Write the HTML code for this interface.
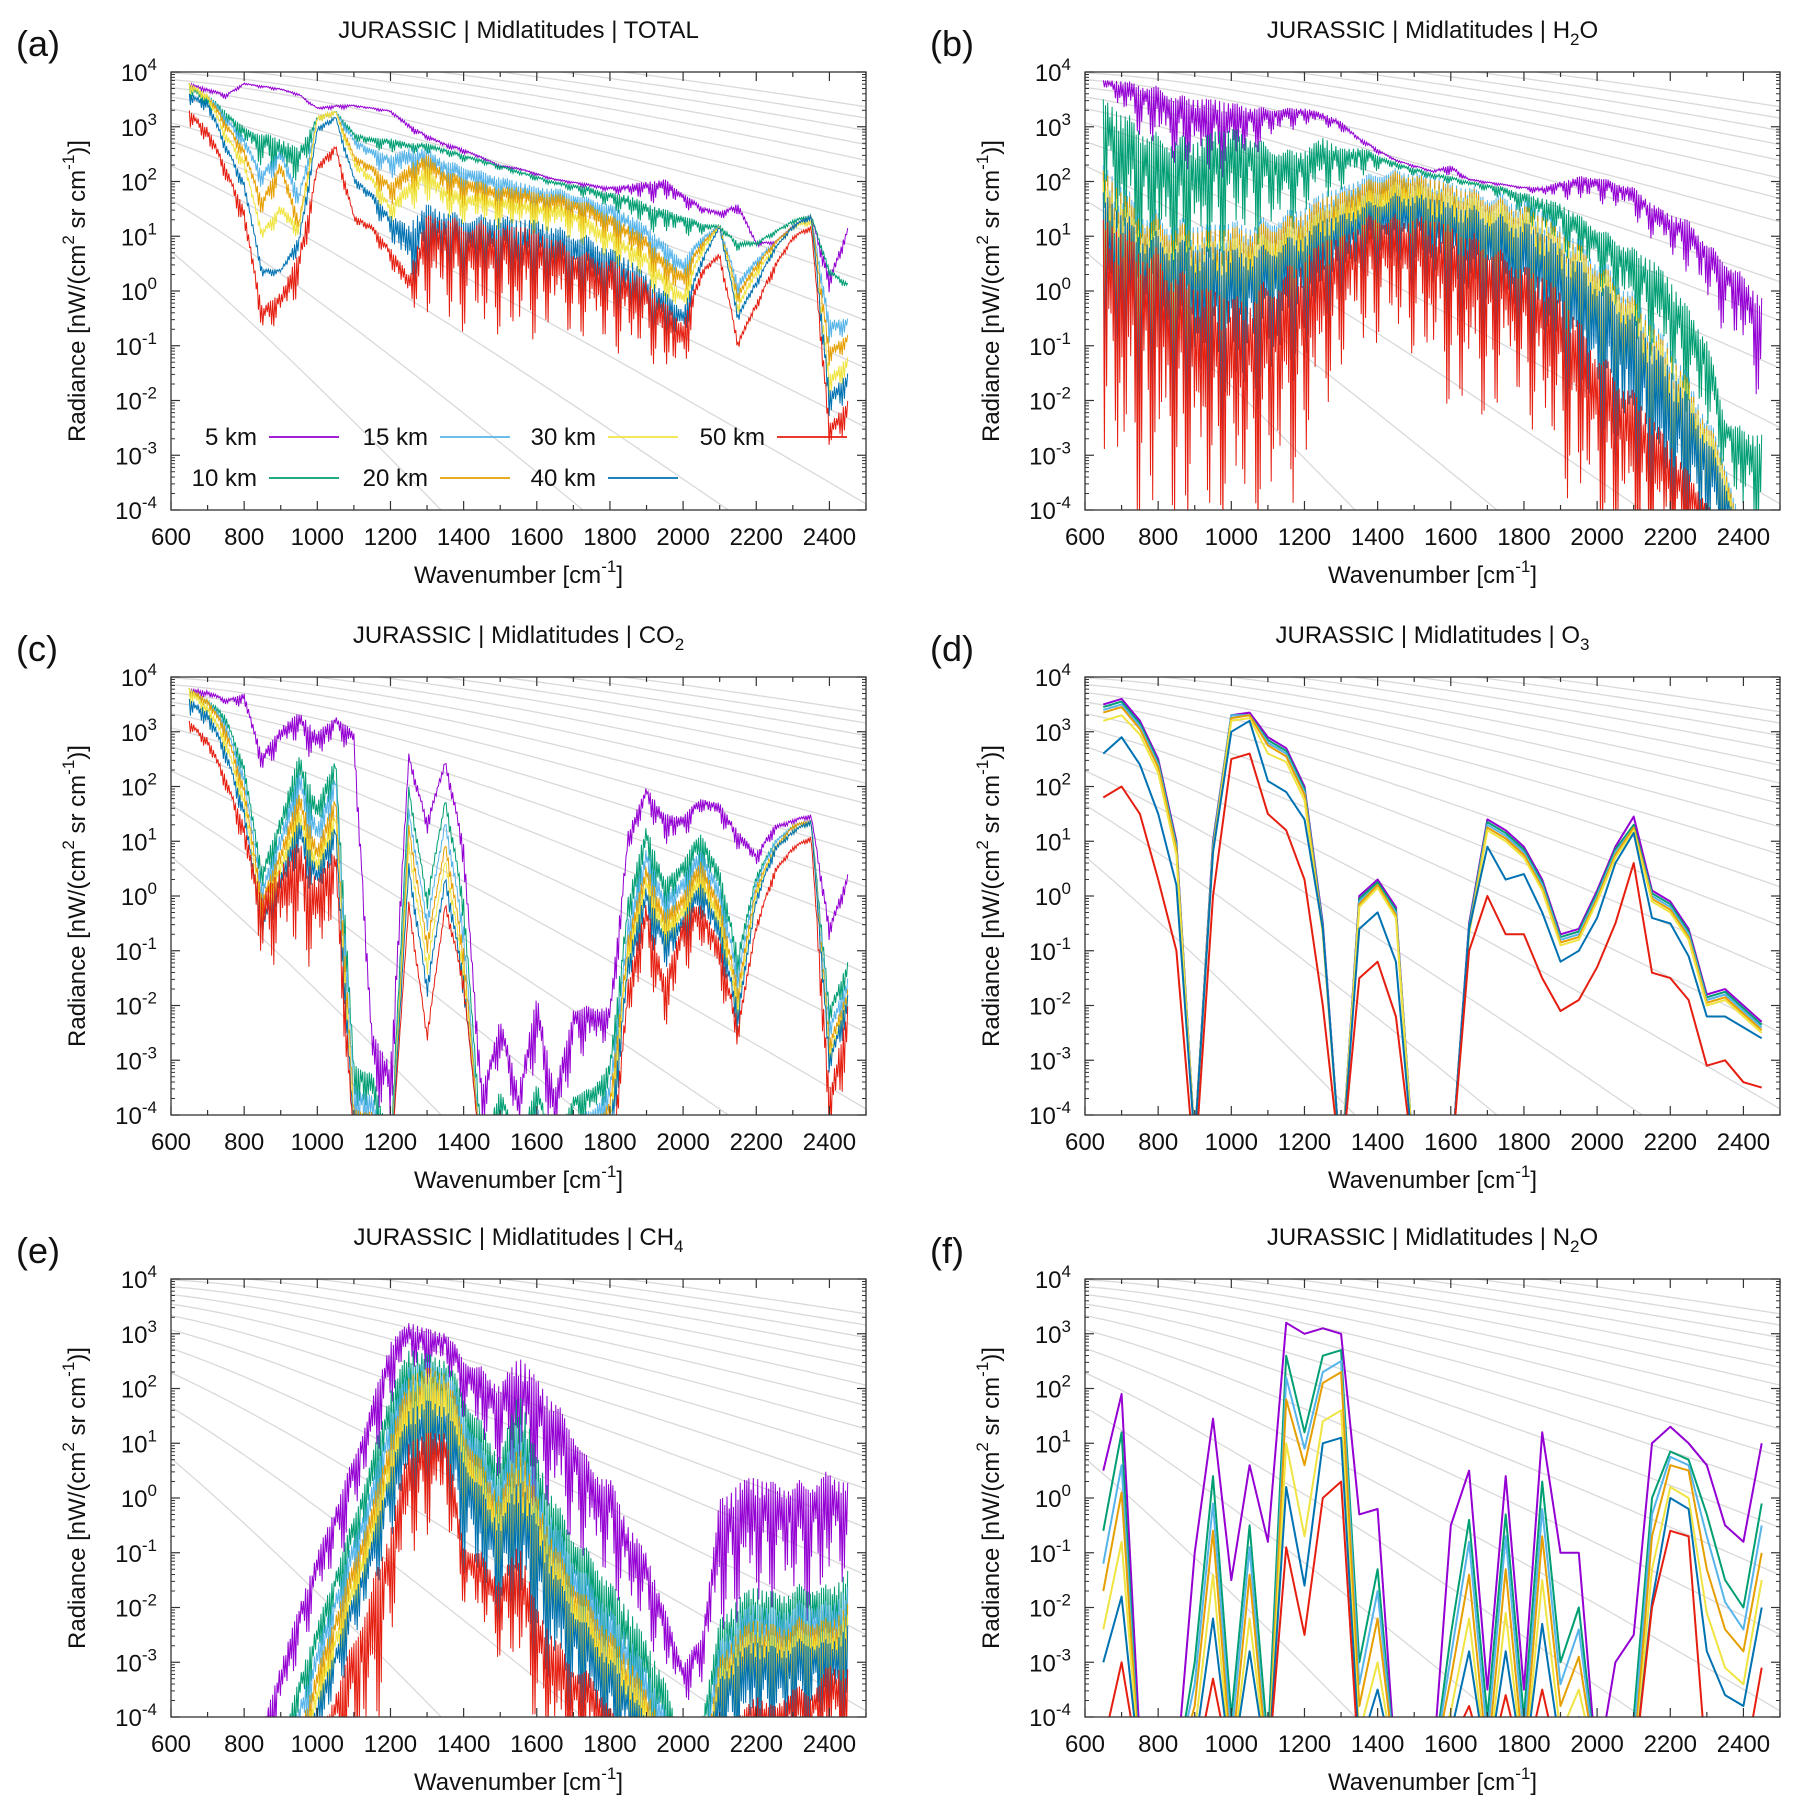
<!DOCTYPE html>
<html><head><meta charset="utf-8"><style>
html,body{margin:0;padding:0;background:#fff;}
svg{display:block;font-family:"Liberation Sans",sans-serif;}
</style></head><body>
<svg id="fig" xmlns="http://www.w3.org/2000/svg" width="1793" height="1811" viewBox="0 0 1793 1811"></svg>
<script>
const wavenumbers=[650,700,750,800,850,900,950,1000,1050,1100,1150,1200,1250,1300,1350,1400,1450,1500,1550,1600,1650,1700,1750,1800,1850,1900,1950,2000,2050,2100,2150,2200,2250,2300,2350,2400,2450];
const altitudes=["5 km","10 km","15 km","20 km","30 km","40 km","50 km"];
const planckTemps=[80,100,120,140,160,180,200,220,240,260,280,300,320,340,360,380,400];
const yTickExps=[-4,-3,-2,-1,0,1,2,3,4];
const xTickLabels=[600,800,1000,1200,1400,1600,1800,2000,2200,2400];
// values are log10(radiance)
const A_5=[3.8,3.7,3.6,3.8,3.75,3.7,3.6,3.35,3.4,3.4,3.35,3.3,3.05,2.85,2.7,2.6,2.45,2.3,2.25,2.15,2.05,2.0,1.95,1.9,1.95,2.0,2.05,1.8,1.55,1.45,1.6,0.9,0.9,1.2,1.4,0.3,1.15];
const A_5_lo=[3.7,3.6,3.5,3.75,3.7,3.65,3.55,3.3,3.3,3.35,3.3,3.25,2.9,2.75,2.6,2.5,2.4,2.25,2.2,2.1,2.0,1.95,1.85,1.8,1.7,1.6,1.6,1.5,1.4,1.3,1.4,0.8,0.85,1.15,1.3,-0.2,1.05];
const A_10=[3.8,3.6,3.3,3.0,2.9,2.8,2.6,3.2,3.3,2.9,2.8,2.8,2.7,2.7,2.6,2.5,2.4,2.3,2.2,2.1,2.0,1.95,1.9,1.8,1.75,1.6,1.5,1.4,1.25,1.2,0.9,0.9,1.1,1.3,1.4,0.4,0.15];
const A_10_lo=[3.5,3.2,3.0,2.6,2.2,2.0,1.9,3.0,3.2,2.7,2.6,2.5,2.5,2.5,2.45,2.35,2.3,2.2,2.1,2.0,1.9,1.8,1.6,1.5,1.3,1.1,1.0,1.0,1.0,1.1,0.7,0.8,1.0,1.2,1.3,0.2,0.05];
const A_15=[3.8,3.6,3.2,2.8,2.2,2.6,1.8,3.2,3.3,2.8,2.6,2.5,2.6,2.6,2.4,2.3,2.2,2.1,2.0,1.9,1.9,1.8,1.7,1.6,1.4,1.2,0.9,0.6,1.0,1.2,0.2,0.6,0.9,1.2,1.4,-0.5,-0.5];
const A_15_lo=[3.6,3.4,3.0,2.5,1.8,2.2,1.4,3.0,3.2,2.6,2.3,2.0,2.0,2.0,1.8,1.7,1.6,1.5,1.4,1.3,1.3,1.2,1.1,1.0,0.8,0.6,0.3,0.0,0.8,1.1,-0.2,0.4,0.8,1.1,1.3,-1.2,-0.7];
const A_20=[3.8,3.6,3.1,2.6,1.7,2.4,1.3,3.2,3.3,2.5,2.3,2.0,2.3,2.5,2.2,2.1,2.0,1.9,1.9,1.8,1.8,1.7,1.6,1.4,1.2,1.0,0.6,0.4,0.9,1.2,0.0,0.5,0.9,1.2,1.4,-1.0,-0.8];
const A_20_lo=[3.6,3.4,2.9,2.3,1.3,1.9,1.0,3.0,3.2,2.3,2.0,1.5,1.7,1.9,1.6,1.5,1.4,1.3,1.3,1.2,1.2,1.1,1.0,0.8,0.6,0.4,0.0,-0.2,0.7,1.1,-0.3,0.3,0.8,1.1,1.3,-1.6,-1.0];
const A_30=[3.8,3.6,2.9,2.4,1.1,1.6,1.2,3.2,3.3,2.4,2.1,1.6,2.0,2.3,1.9,1.8,1.8,1.7,1.7,1.6,1.6,1.5,1.3,1.1,0.9,0.7,0.3,0.0,0.8,1.2,-0.2,0.4,0.8,1.2,1.3,-1.5,-1.2];
const A_30_lo=[3.6,3.4,2.7,2.1,0.9,1.2,0.9,3.0,3.2,2.2,1.8,1.2,1.4,1.6,1.3,1.2,1.2,1.1,1.1,1.0,1.0,0.9,0.7,0.5,0.3,0.1,-0.3,-0.5,0.6,1.1,-0.5,0.2,0.7,1.1,1.2,-2.2,-1.5];
const A_40=[3.6,3.5,2.7,2.0,0.4,0.4,1.0,3.0,3.2,2.1,1.8,1.4,1.2,1.6,1.5,1.4,1.4,1.4,1.3,1.3,1.2,1.1,1.0,0.8,0.6,0.3,0.0,-0.3,0.6,1.2,-0.4,0.2,0.8,1.2,1.4,-1.8,-1.5];
const A_40_lo=[3.4,3.2,2.5,1.7,0.2,0.3,0.6,2.8,3.1,1.9,1.5,0.9,0.0,0.1,0.0,-0.1,-0.1,-0.1,-0.2,-0.2,-0.3,-0.4,-0.5,-0.6,-0.8,-0.9,-1.1,-1.0,0.4,1.1,-0.6,0.0,0.7,1.1,1.3,-2.6,-1.9];
const A_50=[3.3,3.0,2.3,1.5,-0.3,0.0,0.7,2.3,2.7,1.4,1.2,0.8,0.3,1.4,1.4,1.3,1.3,1.2,1.2,1.1,1.0,0.8,0.7,0.6,0.4,0.2,-0.2,-0.5,0.4,0.7,-0.9,-0.2,0.5,1.0,1.2,-2.4,-2.0];
const A_50_lo=[3.0,2.6,2.0,1.0,-0.8,-0.6,-0.2,2.1,2.4,1.2,1.0,0.4,-0.3,-0.5,-0.7,-0.8,-1.0,-0.8,-1.2,-0.9,-0.8,-0.9,-1.0,-1.1,-1.3,-1.2,-1.6,-1.7,0.2,0.5,-1.1,-0.4,0.3,0.9,1.1,-3.1,-2.5];

const B_5=[3.85,3.85,3.8,3.75,3.6,3.55,3.5,3.45,3.4,3.35,3.35,3.35,3.25,3.1,2.8,2.6,2.4,2.3,2.2,2.3,2.05,2.0,1.95,1.9,1.9,2.0,2.1,2.1,2.0,1.9,1.6,1.4,1.3,0.9,0.6,0.3,-0.1];
const B_5_lo=[3.75,3.2,2.8,2.5,2.2,2.1,2.0,2.1,2.4,2.7,2.9,3.0,3.0,2.9,2.7,2.5,2.35,2.25,2.15,2.1,2.0,1.95,1.9,1.85,1.7,1.7,1.6,1.6,1.5,1.3,0.9,0.6,0.3,-0.3,-0.8,-1.3,-2.2];
const B_10=[3.5,3.3,3.1,2.9,2.9,2.8,2.9,3.0,2.9,2.7,2.6,2.6,2.8,2.6,2.65,2.5,2.35,2.25,2.15,2.1,2.0,1.95,1.9,1.8,1.7,1.6,1.4,1.2,1.0,0.8,0.6,0.2,-0.3,-0.8,-2.3,-2.5,-2.6];
const B_10_lo=[1.5,0.3,0.0,-0.1,-0.2,0.0,0.3,0.5,0.8,0.9,1.0,1.3,1.6,1.8,2.0,2.2,2.2,2.1,2.0,1.95,1.9,1.8,1.6,1.3,1.0,0.7,0.4,0.0,-0.4,-0.9,-1.3,-1.8,-2.3,-2.8,-3.3,-4.5,-4.5];
const B_15=[2.3,2.0,1.6,1.5,1.4,1.3,1.2,1.3,1.3,1.4,1.5,1.6,1.8,1.9,2.1,2.2,2.25,2.2,2.1,2.0,1.95,1.85,1.8,1.7,1.5,1.2,1.0,0.7,0.4,0.0,-0.5,-1.0,-1.5,-2.2,-3.0,-4.5,-5];
const B_15_lo=[-1.0,-1.5,-1.8,-2.0,-2.0,-2.0,-1.8,-1.5,-1.3,-1.0,-0.8,-0.5,0.0,0.5,0.8,1.0,1.0,0.9,0.5,0.2,0.0,-0.2,-0.4,-0.7,-1.0,-1.4,-1.8,-2.2,-2.6,-3.0,-3.5,-4.0,-4.5,-5,-5,-5,-5];
const B_20=[2.2,1.9,1.5,1.4,1.3,1.2,1.1,1.2,1.2,1.3,1.4,1.5,1.7,1.8,2.0,2.1,2.2,2.15,2.05,1.95,1.9,1.8,1.7,1.6,1.4,1.1,0.9,0.6,0.3,-0.1,-0.6,-1.1,-1.6,-2.3,-3.1,-4.6,-5];
const B_20_lo=[-1.2,-1.7,-2.0,-2.2,-2.2,-2.2,-2.0,-1.7,-1.5,-1.2,-1.0,-0.7,-0.2,0.3,0.6,0.8,0.8,0.7,0.3,0.0,-0.2,-0.4,-0.6,-0.9,-1.2,-1.6,-2.0,-2.4,-2.8,-3.2,-3.7,-4.2,-4.7,-5,-5,-5,-5];
const B_30=[2.0,1.7,1.3,1.2,1.1,1.0,0.9,1.0,1.0,1.1,1.2,1.3,1.5,1.6,1.8,1.9,2.0,2.0,1.9,1.8,1.8,1.7,1.6,1.5,1.3,1.0,0.8,0.5,0.2,-0.2,-0.7,-1.2,-1.7,-2.4,-3.2,-4.7,-5];
const B_30_lo=[-1.5,-2.0,-2.3,-2.5,-2.5,-2.5,-2.3,-2.0,-1.8,-1.5,-1.3,-1.0,-0.5,0.0,0.3,0.5,0.5,0.4,0.0,-0.3,-0.5,-0.7,-0.9,-1.2,-1.5,-1.9,-2.3,-2.7,-3.1,-3.5,-4.0,-4.5,-5,-5,-5,-5,-5];
const B_40=[1.8,1.5,1.2,1.1,1.0,0.9,0.8,0.8,0.8,0.9,1.0,1.1,1.3,1.4,1.6,1.7,1.8,1.8,1.7,1.6,1.6,1.5,1.4,1.3,1.1,0.8,0.6,0.3,0.0,-0.4,-0.9,-1.4,-1.9,-2.6,-3.4,-4.8,-5];
const B_40_lo=[-2.0,-2.5,-2.8,-3.0,-3.0,-3.0,-2.8,-2.5,-2.3,-2.0,-1.8,-1.5,-1.0,-0.5,-0.2,0.0,0.0,-0.1,-0.5,-0.8,-1.0,-1.2,-1.4,-1.7,-2.0,-2.4,-2.8,-3.2,-3.6,-4.0,-4.5,-5,-5,-5,-5,-5,-5];
const B_50=[1.3,1.2,1.0,0.8,0.5,0.2,0.0,-0.1,0.0,0.3,0.5,0.7,0.9,1.0,1.3,1.5,1.4,1.4,1.3,1.2,1.1,1.0,0.7,0.5,0.3,0.0,-0.5,-1.0,-1.4,-1.8,-2.3,-2.8,-3.3,-3.8,-4.5,-5,-5];
const B_50_lo=[-3.0,-4.2,-4.5,-4.5,-4.5,-4.5,-4.5,-4.5,-4.5,-4.5,-4.2,-3.5,-2.5,-1.5,-1.2,-1.0,-1.1,-1.2,-1.8,-2.3,-2.5,-2.6,-2.0,-2.3,-3.0,-3.6,-4.2,-4.5,-5,-5,-5,-5,-5,-5,-5,-5,-5];

const C_5=[3.8,3.75,3.6,3.7,2.6,3.1,3.35,3.0,3.3,3.0,-2.5,-3.0,2.6,1.4,2.5,1.0,-3.5,-2.2,-3.5,-1.8,-3.5,-2.0,-2.0,-2.0,1.2,2.0,1.5,1.5,1.8,1.7,1.2,0.8,1.3,1.4,1.5,-0.5,0.4];
const C_5_lo=[3.6,3.6,3.5,3.4,2.2,2.6,2.8,2.3,2.9,2.5,-3.5,-4.5,2.4,1.1,2.3,0.5,-4.5,-3.0,-4.5,-3.0,-5,-3.0,-3.0,-2.7,0.6,1.6,0.8,1.0,1.5,1.3,0.8,0.5,1.1,1.3,1.4,-1.0,0.2];
const C_10=[3.8,3.6,3.3,2.4,0.5,1.5,2.6,1.7,2.6,-3.0,-3.2,-4.5,2.0,0.0,1.8,0.0,-4.5,-3.5,-4.5,-3.4,-4.5,-3.6,-3.5,-3.0,0.0,1.3,0.3,0.7,1.2,0.5,-1.0,0.4,1.0,1.3,1.4,-2.0,-1.2];
const C_10_lo=[3.6,3.4,3.1,2.0,0.0,0.8,1.6,1.0,1.8,-4.0,-4.2,-5,1.8,-0.3,1.6,-0.5,-5,-4.2,-5,-4.2,-5,-4.3,-4.2,-3.8,-0.8,0.4,-0.5,0.0,0.4,-0.2,-1.6,0.2,0.9,1.2,1.3,-2.6,-1.6];
const C_15=[3.8,3.6,3.2,2.2,0.2,1.2,2.3,1.3,2.3,-3.4,-3.6,-5,1.6,-0.4,1.4,-0.5,-5,-3.9,-5,-3.8,-5,-4.0,-3.9,-3.4,-0.4,0.9,0.0,0.4,0.9,0.2,-1.3,0.3,1.0,1.3,1.4,-2.3,-1.5];
const C_15_lo=[3.6,3.4,2.9,1.8,-0.3,0.5,1.4,0.6,1.5,-4.5,-4.6,-5,1.4,-0.7,1.2,-1.0,-5,-4.6,-5,-4.6,-5,-4.7,-4.6,-4.2,-1.2,0.0,-0.8,-0.3,0.1,-0.5,-1.9,0.1,0.9,1.2,1.3,-2.9,-1.9];
const C_20=[3.8,3.6,3.1,2.0,0.0,0.9,1.9,0.9,1.9,-3.8,-3.9,-5,1.3,-0.8,1.0,-0.9,-5,-4.2,-5,-4.2,-5,-4.3,-4.2,-3.7,-0.7,0.6,-0.3,0.1,0.7,-0.1,-1.6,0.2,0.9,1.3,1.4,-2.6,-1.7];
const C_20_lo=[3.6,3.4,2.8,1.6,-0.5,0.3,1.1,0.3,1.2,-4.8,-4.9,-5,1.1,-1.1,0.8,-1.4,-5,-5,-5,-5,-5,-5,-5,-4.5,-1.4,-0.2,-1.1,-0.6,-0.1,-0.8,-2.2,0.0,0.8,1.2,1.3,-3.2,-2.1];
const C_30=[3.8,3.5,2.9,1.8,-0.2,0.7,1.6,0.7,1.6,-4.1,-4.2,-5,1.0,-1.2,0.7,-1.2,-5,-4.5,-5,-4.5,-5,-4.6,-4.5,-4.0,-0.9,0.4,-0.5,-0.1,0.5,-0.3,-1.8,0.1,0.9,1.2,1.4,-2.8,-1.8];
const C_30_lo=[3.5,3.2,2.6,1.4,-0.7,0.1,0.8,0.0,0.9,-5,-5,-5,0.8,-1.5,0.5,-1.7,-5,-5,-5,-5,-5,-5,-5,-4.8,-1.6,-0.4,-1.3,-0.8,-0.3,-1.0,-2.4,-0.1,0.8,1.1,1.3,-3.4,-2.2];
const C_40=[3.6,3.4,2.7,1.6,-0.4,0.5,1.4,0.5,1.4,-4.3,-4.3,-5,0.6,-1.6,0.4,-1.4,-5,-4.7,-5,-4.7,-5,-4.8,-4.7,-4.2,-1.1,0.2,-0.7,-0.3,0.3,-0.5,-2.0,0.0,0.9,1.2,1.4,-2.9,-1.8];
const C_40_lo=[3.3,3.0,2.4,1.2,-0.9,-0.2,0.5,-0.2,0.6,-5,-5,-5,0.3,-1.9,0.1,-1.9,-5,-5,-5,-5,-5,-5,-5,-5,-1.8,-0.7,-1.5,-1.0,-0.5,-1.2,-2.6,-0.2,0.7,1.1,1.3,-3.5,-2.3];
const C_50=[3.2,2.9,2.2,1.3,0.0,0.6,1.0,0.3,1.0,-4.5,-5,-5,-0.1,-2.5,-0.1,-1.5,-5,-5,-5,-5,-5,-5,-5,-5,-1.5,-0.1,-1.5,-0.3,-0.1,-0.8,-2.3,-0.5,0.5,0.9,1.1,-3.5,-2.0];
const C_50_lo=[3.0,2.6,1.9,0.7,-1.3,-1.4,-1.0,-1.6,-0.5,-5,-5,-5,-0.3,-2.7,-0.3,-1.8,-5,-5,-5,-5,-5,-5,-5,-5,-2.6,-1.2,-2.7,-1.5,-1.0,-1.8,-2.8,-0.7,0.3,0.8,1.0,-5,-3.0];

const D_5=[3.5,3.6,3.2,2.5,1.0,-4.5,1.0,3.3,3.35,2.9,2.7,2.0,-0.5,-5,0.0,0.3,-0.2,-5,-5,-5,-0.5,1.4,1.2,0.9,0.3,-0.7,-0.6,0.1,0.9,1.45,0.1,-0.1,-0.6,-1.8,-1.7,-2.0,-2.3];
const D_10=[3.45,3.55,3.15,2.45,0.95,-4.5,0.95,3.3,3.3,2.85,2.65,1.95,-0.55,-5,-0.05,0.25,-0.25,-5,-5,-5,-0.55,1.35,1.15,0.85,0.25,-0.75,-0.65,0.05,0.85,1.3,0.05,-0.15,-0.65,-1.85,-1.75,-2.05,-2.35];
const D_15=[3.4,3.5,3.1,2.4,0.9,-4.5,0.9,3.3,3.3,2.8,2.6,1.9,-0.6,-5,-0.1,0.2,-0.3,-5,-5,-5,-0.6,1.3,1.1,0.8,0.2,-0.8,-0.7,0.0,0.8,1.25,0.0,-0.2,-0.7,-1.9,-1.8,-2.1,-2.4];
const D_20=[3.35,3.45,3.05,2.35,0.85,-4.5,0.85,3.25,3.3,2.75,2.55,1.85,-0.65,-5,-0.15,0.2,-0.35,-5,-5,-5,-0.65,1.25,1.05,0.75,0.15,-0.85,-0.75,-0.05,0.75,1.25,-0.05,-0.25,-0.75,-1.95,-1.85,-2.15,-2.45];
const D_30=[3.2,3.3,2.95,2.25,0.75,-4.5,0.8,3.2,3.25,2.6,2.45,1.75,-0.7,-5,-0.2,0.15,-0.4,-5,-5,-5,-0.7,1.2,1.0,0.7,0.1,-0.9,-0.8,-0.1,0.7,1.2,-0.1,-0.3,-0.8,-2.0,-1.9,-2.2,-2.5];
const D_40=[2.6,2.9,2.4,1.5,0.2,-4.5,0.8,3.0,3.2,2.1,1.9,1.4,-0.6,-5,-0.6,-0.3,-1.2,-5,-5,-5,-0.6,0.9,0.3,0.4,-0.3,-1.2,-1.0,-0.4,0.6,1.15,-0.4,-0.5,-1.1,-2.2,-2.2,-2.4,-2.6];
const D_50=[1.8,2.0,1.5,0.3,-1.0,-5,0.0,2.5,2.6,1.5,1.2,0.3,-2.0,-5,-1.5,-1.2,-2.2,-5,-5,-5,-1.0,0.0,-0.7,-0.7,-1.5,-2.1,-1.9,-1.3,-0.5,0.6,-1.4,-1.5,-1.9,-3.1,-3.0,-3.4,-3.5];

const E_5=[-5,-5,-5,-5,-4.2,-3.0,-2.0,-1.0,-0.1,0.8,1.8,2.9,3.2,3.1,3.05,2.6,2.4,2.1,2.6,2.2,1.8,1.3,0.6,0.4,-0.5,-1.0,-2.0,-3.0,-2.5,0.0,0.3,0.4,0.3,0.3,0.4,0.5,0.3];
const E_5_lo=[-5,-5,-5,-5,-5,-4.2,-3.0,-2.0,-1.4,-0.5,0.5,1.5,2.5,2.0,2.3,1.4,0.8,0.3,0.0,-0.3,-0.6,-1.0,-1.4,-1.7,-2.2,-2.6,-3.2,-3.8,-3.5,-2.6,-2.4,-2.2,-2.0,-2.1,-2.3,-2.0,-1.4];
const E_10=[-5,-5,-5,-5,-5,-4.5,-3.3,-2.3,-1.3,-0.3,0.8,2.0,2.7,2.65,2.6,2.0,1.4,0.8,2.0,0.8,0.0,-0.6,-1.0,-1.5,-2.0,-2.6,-3.3,-4.5,-4.0,-2.2,-1.8,-1.6,-1.7,-1.6,-1.5,-1.6,-1.3];
const E_10_lo=[-5,-5,-5,-5,-5,-5,-4.2,-3.2,-2.3,-1.4,-0.5,0.5,1.0,0.8,0.9,-0.2,-0.8,-1.3,-1.6,-2.0,-2.4,-2.8,-3.2,-3.6,-4.0,-4.5,-5,-5,-5,-4.2,-4.0,-3.8,-3.8,-3.8,-3.7,-3.7,-3.5];
const E_15=[-5,-5,-5,-5,-5,-5,-3.8,-2.7,-1.7,-0.7,0.3,1.6,2.4,2.5,2.5,1.7,1.0,0.4,1.5,0.4,-0.4,-1.0,-1.5,-2.0,-2.5,-3.1,-3.8,-5,-4.5,-2.6,-2.1,-1.9,-2.0,-1.9,-1.8,-1.9,-1.6];
const E_15_lo=[-5,-5,-5,-5,-5,-5,-4.6,-3.6,-2.7,-1.8,-0.9,0.1,0.6,0.4,0.5,-0.6,-1.2,-1.7,-2.0,-2.4,-2.8,-3.2,-3.6,-4.0,-4.4,-4.9,-5,-5,-5,-4.5,-4.3,-4.1,-4.1,-4.1,-4.0,-4.0,-3.8];
const E_20=[-5,-5,-5,-5,-5,-5,-4.3,-3.1,-2.1,-1.1,-0.1,1.2,2.2,2.4,2.4,1.4,0.7,0.1,1.0,0.1,-0.8,-1.4,-1.9,-2.4,-2.9,-3.5,-4.2,-5,-5,-2.9,-2.4,-2.2,-2.3,-2.2,-2.1,-2.2,-1.9];
const E_20_lo=[-5,-5,-5,-5,-5,-5,-5,-4.0,-3.1,-2.2,-1.3,-0.3,0.2,0.0,0.1,-1.0,-1.6,-2.1,-2.4,-2.8,-3.2,-3.6,-4.0,-4.4,-4.8,-5,-5,-5,-5,-4.8,-4.6,-4.4,-4.4,-4.4,-4.3,-4.3,-4.1];
const E_30=[-5,-5,-5,-5,-5,-5,-4.6,-3.4,-2.4,-1.4,-0.4,0.9,2.0,2.3,2.3,1.2,0.5,-0.1,0.7,-0.1,-1.0,-1.6,-2.1,-2.6,-3.1,-3.7,-4.4,-5,-5,-3.1,-2.6,-2.4,-2.5,-2.4,-2.3,-2.4,-2.1];
const E_30_lo=[-5,-5,-5,-5,-5,-5,-5,-4.3,-3.4,-2.5,-1.6,-0.6,-0.1,-0.3,-0.2,-1.3,-1.9,-2.4,-2.7,-3.1,-3.5,-3.9,-4.3,-4.7,-5,-5,-5,-5,-5,-5,-4.8,-4.6,-4.6,-4.6,-4.5,-4.5,-4.3];
const E_40=[-5,-5,-5,-5,-5,-5,-5,-3.7,-2.7,-1.7,-0.7,0.6,1.6,1.8,1.8,0.9,0.2,-0.4,0.4,-0.4,-1.3,-1.9,-2.4,-2.9,-3.4,-4.0,-4.7,-5,-5,-3.3,-2.8,-2.6,-2.7,-2.6,-2.5,-2.6,-2.3];
const E_40_lo=[-5,-5,-5,-5,-5,-5,-5,-4.6,-3.7,-2.8,-1.9,-0.9,-0.4,-0.6,-0.5,-1.6,-2.2,-2.7,-3.0,-3.4,-3.8,-4.2,-4.6,-5,-5,-5,-5,-5,-5,-5,-5,-4.8,-4.8,-4.8,-4.7,-4.7,-4.5];
const E_50=[-5,-5,-5,-5,-5,-5,-5,-4.5,-3.5,-2.5,-1.5,-0.5,1.0,1.2,1.3,-0.8,-1.0,-1.5,-0.8,-2.0,-2.5,-3.0,-3.2,-3.8,-4.5,-5,-5,-5,-5,-5,-4.0,-3.6,-3.8,-3.4,-3.5,-3.0,-3.1];
const E_50_lo=[-5,-5,-5,-5,-5,-5,-5,-5,-5,-5,-5,-2.8,-1.2,-0.8,-0.5,-2.0,-2.5,-3.0,-3.5,-4.2,-5,-5,-5,-5,-5,-5,-5,-5,-5,-5,-5,-5,-5,-5,-5,-5,-5];

const F_5=[0.5,1.9,-4.5,-5,-5,-1.0,1.45,-1.5,0.6,-0.8,3.2,3.0,3.1,3.0,-0.3,-0.2,-5,-5,-5,-0.5,0.5,-3.5,0.4,-3.5,1.2,-1.0,-1.0,-5,-3.0,-2.5,1.0,1.3,1.0,0.6,-0.5,-0.8,1.0];
const F_10=[-0.6,1.2,-5,-5,-5,-3.0,0.4,-4.0,-0.5,-4.5,2.6,1.2,2.6,2.7,-3.0,-1.3,-5,-5,-5,-2.5,-0.4,-4.0,-0.3,-4.0,0.3,-3.0,-2.0,-5,-5,-4.0,0.0,0.85,0.7,-0.3,-1.5,-2.0,-0.1];
const F_15=[-1.2,0.6,-5,-5,-5,-3.4,-0.1,-4.4,-0.9,-5,2.2,0.9,2.3,2.5,-3.4,-1.7,-5,-5,-5,-2.9,-0.8,-4.4,-0.7,-4.4,-0.2,-3.4,-2.4,-5,-5,-4.4,-0.3,0.75,0.6,-0.7,-1.9,-2.4,-0.5];
const F_20=[-1.7,0.1,-5,-5,-5,-3.8,-0.6,-4.8,-1.4,-5,1.8,0.6,2.1,2.3,-3.8,-2.2,-5,-5,-5,-3.3,-1.4,-4.8,-1.3,-4.8,-0.7,-3.8,-2.9,-5,-5,-4.8,-0.7,0.6,0.5,-1.3,-2.4,-2.8,-1.0];
const F_30=[-2.4,-0.8,-5,-5,-5,-4.3,-1.4,-5,-2.2,-5,1.0,-0.7,1.4,1.6,-4.3,-3.0,-5,-5,-5,-3.9,-2.2,-5,-2.1,-5,-1.5,-4.3,-3.5,-5,-5,-5,-1.3,0.2,0.0,-2.1,-3.1,-3.4,-1.5];
const F_40=[-3.0,-1.8,-5,-5,-5,-4.6,-2.2,-5,-2.8,-5,0.2,-1.6,1.0,1.1,-4.6,-3.5,-5,-5,-5,-4.3,-2.8,-5,-2.8,-5,-2.3,-4.6,-4.0,-5,-5,-5,-1.9,0.0,-0.2,-2.8,-3.6,-3.8,-2.0];
const F_50=[-4.5,-3.0,-5,-5,-5,-5,-3.3,-5,-5,-5,-0.9,-2.5,0.0,0.3,-5,-5,-5,-5,-5,-4.5,-3.8,-5,-3.6,-5,-3.5,-5,-5,-5,-5,-5,-2.0,-0.6,-0.7,-5,-5,-5,-3.1];

const COLORS=["#9400d3","#009e73","#56b4e9","#e69f00","#f0e442","#0072b2","#e51e10"];
const NS="http://www.w3.org/2000/svg";
const svg=document.getElementById('fig');
function mk(tag,attrs,parent){const e=document.createElementNS(NS,tag);for(const k in attrs)e.setAttribute(k,attrs[k]);(parent||svg).appendChild(e);return e;}
function interp(arr,w){
  const i=Math.min(arr.length-2,Math.max(0,Math.floor((w-wavenumbers[0])/50)));
  const t=(w-wavenumbers[i])/(wavenumbers[i+1]-wavenumbers[i]);
  return arr[i]+(arr[i+1]-arr[i])*t;
}

const panels=[
 {id:'a',gas:'TOTAL',sub:null,L:171,T:72,hi:[A_5,A_10,A_15,A_20,A_30,A_40,A_50],lo:[A_5_lo,A_10_lo,A_15_lo,A_20_lo,A_30_lo,A_40_lo,A_50_lo],legend:true},
 {id:'b',gas:'H',sub:['2','O'],L:1085,T:72,hi:[B_5,B_10,B_15,B_20,B_30,B_40,B_50],lo:[B_5_lo,B_10_lo,B_15_lo,B_20_lo,B_30_lo,B_40_lo,B_50_lo]},
 {id:'c',gas:'CO',sub:['2',''],L:171,T:677,hi:[C_5,C_10,C_15,C_20,C_30,C_40,C_50],lo:[C_5_lo,C_10_lo,C_15_lo,C_20_lo,C_30_lo,C_40_lo,C_50_lo]},
 {id:'d',gas:'O',sub:['3',''],L:1085,T:677,hi:[D_5,D_10,D_15,D_20,D_30,D_40,D_50],lo:[null,null,null,null,null,null,null]},
 {id:'e',gas:'CH',sub:['4',''],L:171,T:1279,hi:[E_5,E_10,E_15,E_20,E_30,E_40,E_50],lo:[E_5_lo,E_10_lo,E_15_lo,E_20_lo,E_30_lo,E_40_lo,E_50_lo]},
 {id:'f',gas:'N',sub:['2','O'],L:1085,T:1279,hi:[F_5,F_10,F_15,F_20,F_30,F_40,F_50],lo:[null,null,null,null,null,null,null]}
];
const W=695,H=438;

panels.forEach(p=>{
  const g=mk('g',{});
  
  
  const xs=w=>p.L+(w-600)/1900*W;
  const ys=l=>p.T+(4-l)/8*H;
  const cx=p.L+W/2;
  const cp=mk('clipPath',{id:'clip-'+p.id},g);
  mk('rect',{x:p.L,y:p.T,width:W,height:H},cp);
  const plot=mk('g',{'clip-path':'url(#clip-'+p.id+')'},g);
  
  
  planckTemps.forEach(T=>{
    let d='';
    for(let w=600;w<=2500;w+=10){
      const B=1.191042e-3*Math.pow(w,3)/(Math.exp(1.4388*w/T)-1);
      const l=Math.max(-6,Math.log10(B));
      d+=(d?'L':'M')+xs(w).toFixed(1)+','+ys(l).toFixed(1);
    }
    const c=mk('path',{d:d,fill:'none',stroke:'#d9d9d9','stroke-width':1.3},plot);
    
    
  });
  p.hi.forEach((hi,si)=>{
    const lo=p.lo[si];
    const col=COLORS[si];
    let pts=[];
    if(lo){
      let k=0;
      for(let w=650;w<=2450;w+=3,k++){
        const h=interp(hi,w), l=interp(lo,w);
        let v;
        if(k%2===0) v=h-(h-l)*0.15*Math.abs(Math.sin(k*0.77)*Math.sin(k*0.13));
        else v=h-(h-l)*(0.3+0.7*Math.abs(Math.sin(k*1.37)*Math.cos(k*0.29)));
        pts.push(xs(w).toFixed(1)+','+ys(v).toFixed(1));
      }
      const pl=mk('polyline',{points:pts.join(' '),fill:'none',stroke:col,'stroke-width':1,'stroke-linejoin':'miter'},plot);
      
      
    } else {
      pts=hi.map((v,i)=>xs(wavenumbers[i]).toFixed(1)+','+ys(v).toFixed(1));
      const pl=mk('polyline',{points:pts.join(' '),fill:'none',stroke:col,'stroke-width':2,'stroke-linejoin':'round'},plot);
      
      
    }
  });
  const fr=mk('rect',{x:p.L,y:p.T,width:W,height:H,fill:'none',stroke:'#333','stroke-width':1.3},g);
  
  
  for(let w=600;w<=2500;w+=100){
    const len=(w%200===0)?9:5;const x=xs(w);
    mk('line',{x1:x,y1:p.T+H,x2:x,y2:p.T+H-len,stroke:'#333','stroke-width':1.2},g);
    mk('line',{x1:x,y1:p.T,x2:x,y2:p.T+len,stroke:'#333','stroke-width':1.2},g);
  }
  xTickLabels.forEach(w=>{
    const t=mk('text',{x:xs(w),y:p.T+H+35,'text-anchor':'middle','font-size':24,fill:'#111'},g);
    t.textContent=w;
    
    
  });
  yTickExps.forEach(e=>{
    const y=ys(e);
    mk('line',{x1:p.L,y1:y,x2:p.L+9,y2:y,stroke:'#333','stroke-width':1.2},g);
    mk('line',{x1:p.L+W,y1:y,x2:p.L+W-9,y2:y,stroke:'#333','stroke-width':1.2},g);
    if(e<4){for(let m=2;m<10;m++){const ym=ys(e+Math.log10(m));
      mk('line',{x1:p.L,y1:ym,x2:p.L+4,y2:ym,stroke:'#333','stroke-width':1},g);
      mk('line',{x1:p.L+W,y1:ym,x2:p.L+W-4,y2:ym,stroke:'#333','stroke-width':1},g);}}
    const t=mk('text',{x:p.L-14,y:y+9,'text-anchor':'end','font-size':24,fill:'#111'},g);
    
    
    const a=mk('tspan',{},t);a.textContent='10';
    const b=mk('tspan',{dy:-11,'font-size':17},t);b.textContent=String(e);
  });
  const xt=mk('text',{x:cx,y:p.T+H+73,'text-anchor':'middle','font-size':24,fill:'#111'},g);
  
  
  mk('tspan',{},xt).textContent='Wavenumber [cm';
  mk('tspan',{dy:-11,'font-size':17},xt).textContent='-1';
  mk('tspan',{dy:11},xt).textContent=']';
  const yx=p.L-86,yy=p.T+H/2;
  const yt=mk('text',{x:yx,y:yy,'text-anchor':'middle','font-size':24,fill:'#111',transform:'rotate(-90 '+yx+' '+yy+')'},g);
  
  
  mk('tspan',{},yt).textContent='Radiance [nW/(cm';
  mk('tspan',{dy:-11,'font-size':17},yt).textContent='2';
  mk('tspan',{dy:11},yt).textContent=' sr cm';
  mk('tspan',{dy:-11,'font-size':17},yt).textContent='-1';
  mk('tspan',{dy:11},yt).textContent=')]';
  const tt=mk('text',{x:cx,y:p.T-34,'text-anchor':'middle','font-size':24,fill:'#111'},g);
  
  
  mk('tspan',{},tt).textContent='JURASSIC | Midlatitudes | '+p.gas;
  if(p.sub){mk('tspan',{dy:7,'font-size':17},tt).textContent=p.sub[0];
    if(p.sub[1]) mk('tspan',{dy:-7},tt).textContent=p.sub[1];}
  const pl=mk('text',{x:p.L-155,y:p.T-16,'font-size':36,fill:'#111'},g);
  
  
  pl.textContent='('+p.id+')';
  if(p.legend){
    const lg=mk('g',{},g);
    
    
    const cols=[[0,1],[2,3],[4,5],[6]];
    const labelEnd=[257,428,596,765];
    cols.forEach((c,ci)=>{c.forEach((si,ri)=>{
      const y=p.T+365+ri*41;
      const e=mk('g',{},lg);
      
      
      const t=mk('text',{x:labelEnd[ci],y:y+8,'text-anchor':'end','font-size':24,fill:'#111'},e);
      t.textContent=altitudes[si];
      mk('line',{x1:labelEnd[ci]+12,y1:y,x2:labelEnd[ci]+82,y2:y,stroke:COLORS[si],'stroke-width':1.8},e);
    });});
  }
});
</script>
</body></html>
